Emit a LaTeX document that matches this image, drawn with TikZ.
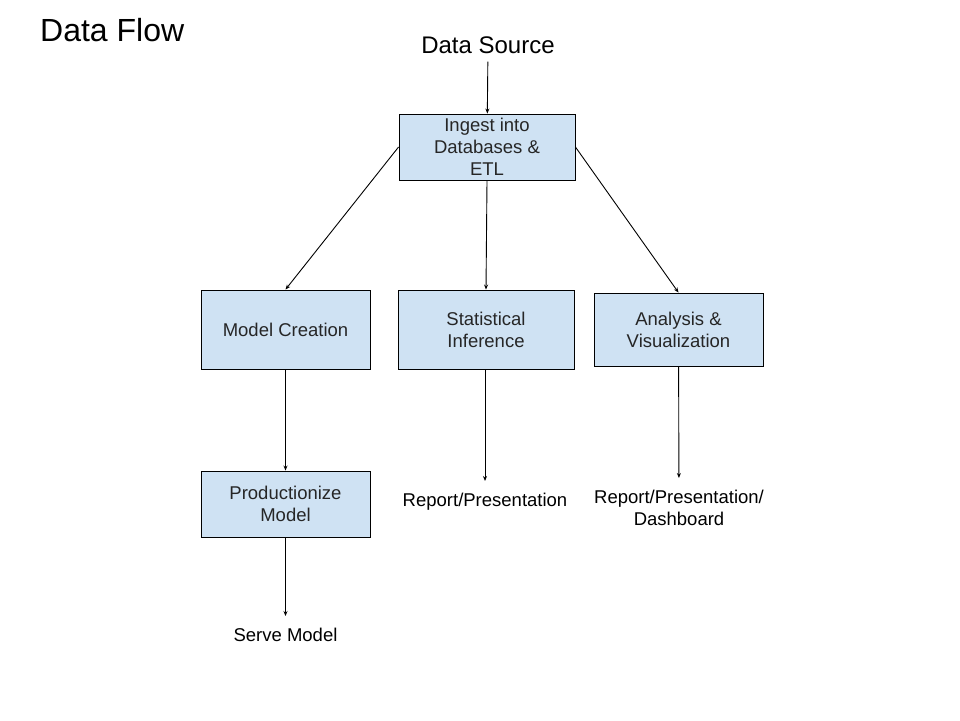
\documentclass[tikz,border=0pt]{standalone}
\usepackage{fontspec}
\setmainfont{Liberation Sans}
\usetikzlibrary{arrows.meta}
\definecolor{boxblue}{HTML}{CFE2F3}

\begin{document}
\begin{tikzpicture}[x=1pt, y=-1pt,
    stagebox/.style={draw, fill=boxblue, line width=0.9pt, align=center, text=black!85,
        font=\fontsize{18.5}{22}\selectfont, inner sep=0pt},
    outlabel/.style={align=center, font=\fontsize{18.5}{22}\selectfont,
        inner xsep=0pt, inner ysep=12pt, anchor=north},
    flow/.style={-{Stealth[length=5pt,width=4pt]}, line width=0.9pt}]

    \useasboundingbox (0,0) rectangle (960,720);

    % Title and the source
    \node[anchor=west, inner sep=0pt, font=\fontsize{32}{38}\selectfont] (title) at (40,30) {Data Flow};
    \node[inner xsep=0pt, inner ysep=8pt, font=\fontsize{24}{28}\selectfont] (source) at (488,45) {Data Source};

    % The stages
    \node[stagebox, minimum width=176pt, minimum height=66pt] (ingest) at (487,147) {Ingest into\\Databases \&\\ETL};
    \node[stagebox, minimum width=169pt, minimum height=79pt] (model) at (285.5,329.5) {Model Creation};
    \node[stagebox, minimum width=176pt, minimum height=79pt] (stat) at (486,329.5) {Statistical\\Inference};
    \node[stagebox, minimum width=169pt, minimum height=73pt] (analysis) at (678.5,329.5) {Analysis \&\\Visualization};
    \node[stagebox, minimum width=169pt, minimum height=66pt] (prod) at (285.5,504) {Productionize\\Model};

    % The outputs
    \node[outlabel] (serve) at (285.5,616) {Serve Model};
    \node[outlabel] (report) at (485,481) {Report/Presentation};
    \node[outlabel] (dash) at (679,478) {Report/Presentation/\\Dashboard};

    % Arrows
    \draw[flow] (source) -- (ingest);
    \draw[flow] (ingest.west) -- (model.north);
    \draw[flow] (ingest.south) -- (stat.north);
    \draw[flow] (ingest.east) -- (analysis.north);
    \draw[flow] (model) -- (prod);
    \draw[flow] (prod) -- (serve);
    \draw[flow] (stat.south -| report) -- (report);
    \draw[flow] (analysis) -- (dash);

\end{tikzpicture}
\end{document}
